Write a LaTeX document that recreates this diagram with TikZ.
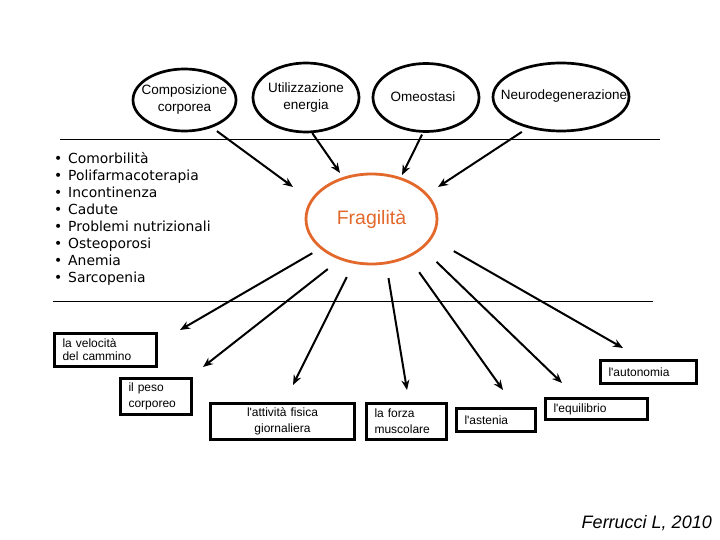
\documentclass[tikz,border=0pt]{standalone}
\usepackage{fontspec}
\setmainfont{Liberation Sans}
\newfontfamily\listfont{DejaVu Sans}
\usetikzlibrary{shapes.geometric,arrows.meta}
\definecolor{fragorange}{RGB}{226,104,44}

\begin{document}
\begin{tikzpicture}[x=1pt,y=-1pt,
    cause/.style={ellipse, draw, line width=2.7pt, inner sep=0pt},
    causetext/.style={align=center, font=\fontsize{13.5}{17}\selectfont},
    outbox/.style={draw, line width=3pt, inner xsep=8pt, inner ysep=0pt, align=left,
      anchor=north west, font=\fontsize{12}{16}\selectfont},
    listline/.style={anchor=base west, inner sep=0pt, font=\listfont\fontsize{13.9}{16}\selectfont},
    arr/.style={line width=2pt, -{Stealth[length=10pt,width=8pt]}},
    rule/.style={line width=0.9pt}]
  \useasboundingbox (0,0) rectangle (720,540);

  % cause ellipses
  \node[cause, minimum width=103pt, minimum height=62pt] (comp) at (184.5,100) {};
  \node[causetext] (comptext) at (comp) {Composizione\\corporea};
  \node[cause, minimum width=106pt, minimum height=69pt] (util) at (306,97.5) {};
  \node[causetext] (utiltext) at (util) {Utilizzazione\\energia};
  \node[cause, minimum width=106pt, minimum height=68pt] (omeo) at (426,97.5) {};
  \node[causetext] (omeotext) at ([xshift=-3pt,yshift=1pt]omeo) {Omeostasi};
  \node[cause, minimum width=136pt, minimum height=68pt] (neuro) at (561,97) {};
  \node[causetext] (neurotext) at ([xshift=3pt,yshift=1pt]neuro) {Neurodegenerazione};

  \draw[rule] (60,139) -- (660,139);
  \draw[rule] (53,301) -- (653,301);

  % list of conditions
  \foreach \txt [count=\i] in {Comorbilità, Polifarmacoterapia, Incontinenza, Cadute,
      Problemi nutrizionali, Osteoporosi, Anemia, Sarcopenia}
    \node[listline] (item\i) at (54,{164+16.86*(\i-1)}) {\makebox[14pt][l]{\textbullet}\txt};

  % centre
  \node[ellipse, draw=fragorange, line width=2.8pt, minimum width=131pt, minimum height=90pt,
    inner sep=0pt, text=fragorange, font=\fontsize{19.5}{22}\selectfont] (frag) at (371.5,219) {Fragilità};

  % arrows in
  \coordinate (incomp) at (293,187);
  \coordinate (inutil) at (340,173);
  \coordinate (inomeo) at (402,175);
  \coordinate (inneuro) at (438,187);
  \draw[arr, shorten <=6pt] (comp.315) -- (incomp);
  \draw[arr] (util.280) -- (inutil);
  \draw[arr, shorten <=2pt] (omeo.265) -- (inomeo);
  \draw[arr, shorten <=7pt] (neuro.223) -- (inneuro);

  % outcome boxes
  \node[outbox, text width=86pt, minimum height=33pt, font=\fontsize{12}{13}\selectfont] (velo) at (53,332) {la velocità\\del cammino};
  \node[outbox, text width=55pt, minimum height=36pt] (peso) at (119,377) {il peso\\corporeo};
  \node[outbox, text width=128pt, minimum height=36pt, align=center] (attiv) at (209,402) {l\textquotesingle attività fisica\\giornaliera};
  \node[outbox, text width=64pt, minimum height=36pt] (forza) at (365,402) {la forza\\muscolare};
  \node[outbox, text width=63pt, minimum height=23pt] (asten) at (455,407) {l\textquotesingle astenia};
  \node[outbox, text width=86pt, minimum height=21pt] (equil) at (544,397) {l\textquotesingle equilibrio};
  \node[outbox, text width=80pt, minimum height=23pt] (auton) at (599,359) {l\textquotesingle autonomia};

  % arrows out
  \coordinate (tovelo) at (180,330);
  \coordinate (topeso) at (203,367);
  \coordinate (toattiv) at (293,385);
  \coordinate (toforza) at (407,390);
  \coordinate (toasten) at (503,390);
  \coordinate (toequil) at (562,383);
  \coordinate (toauton) at (623,348);
  \draw[arr, shorten <=9pt] (frag.210) -- (tovelo);
  \draw[arr, shorten <=15pt] (frag.232) -- (topeso);
  \draw[arr, shorten <=15pt] (frag.248) -- (toattiv);
  \draw[arr, shorten <=14pt] (frag.288) -- (toforza);
  \draw[arr, shorten <=18pt] (frag.314) -- (toasten);
  \draw[arr, shorten <=19pt] (frag.330) -- (toequil);
  \draw[arr, shorten <=25pt] (frag.342) -- (toauton);

  \node[anchor=base east, inner sep=0pt, font=\fontsize{18}{20}\selectfont\itshape] (cite) at (712,528) {Ferrucci L, 2010};
\end{tikzpicture}
\end{document}
